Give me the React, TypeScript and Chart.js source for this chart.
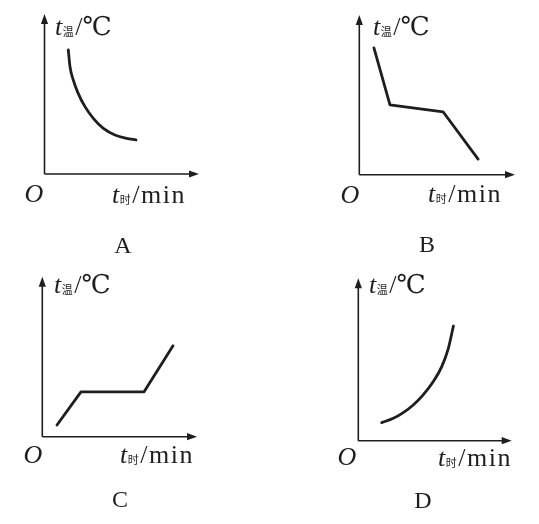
import React, { useEffect, useRef } from "react";
import { Chart, registerables } from "chart.js";

Chart.register(...registerables);

// ---- data (axis units 0..100) ----
const panelNames = ["A", "B", "C", "D"];
const aTime = [15.4, 16.5, 18.6, 21.8, 26.2, 31.6, 38.1, 45.6, 53.2, 59.2];
const aTemp = [77.5, 67.1, 58.8, 50.4, 42.1, 34.8, 28.5, 24.4, 22.3, 21.3];
const bTime = [9.4, 19.7, 53.8, 76.3];
const bTemp = [79.4, 43.7, 39.4, 9.8];
const cTime = [9.5, 25, 65.7, 84.5];
const cTemp = [7.3, 28, 28, 56.8];
const dTime = [15.3, 22.8, 29.3, 35.8, 42.3, 48.9, 54.4, 58.7, 62.0];
const dTemp = [11.1, 13.8, 17.3, 22.0, 28.2, 36.4, 45.6, 56.9, 70.6];
const yLabelParts = ["t", "温", "/℃"];
const xLabelParts = ["t", "时", "/min"];
const originText = "O";

const W = 539;
const H = 524;
const INK = "#1e1e1e";

type Layout = {
  ox: number; oy: number; tx: number; ty: number;
  yl: [number, number]; xl: [number, number]; o: [number, number]; letter: [number, number];
  smooth: boolean;
};

const layouts: Layout[] = [
  { ox: 44.5, oy: 174, tx: 199, ty: 14, yl: [55, 35], xl: [112, 203], o: [34, 202], letter: [123, 253], smooth: true },
  { ox: 359.3, oy: 174.7, tx: 515, ty: 15, yl: [373, 35], xl: [428, 202], o: [350, 203], letter: [427, 252], smooth: false },
  { ox: 42.3, oy: 436.7, tx: 197, ty: 276.7, yl: [54, 293], xl: [120, 463], o: [33, 463], letter: [120, 507], smooth: false },
  { ox: 358.3, oy: 440.7, tx: 511.7, ty: 278.3, yl: [369, 293], xl: [438, 466], o: [347, 465], letter: [423, 508], smooth: true },
];

const series = [
  [aTime, aTemp],
  [bTime, bTemp],
  [cTime, cTemp],
  [dTime, dTemp],
];

const SERIF = '"Liberation Serif", "DejaVu Serif", "Noto Sans CJK SC", serif';
const CJK = '"Noto Sans CJK SC", sans-serif';

function drawLabel(ctx: CanvasRenderingContext2D, parts: string[], x: number, y: number, spacing: string) {
  ctx.textAlign = "left";
  ctx.textBaseline = "alphabetic";
  ctx.font = `italic 26px ${SERIF}`;
  ctx.fillText(parts[0], x, y);
  let cx = x + ctx.measureText(parts[0]).width + 0.5;
  ctx.font = `11px ${CJK}`;
  ctx.fillText(parts[1], cx, y + 1);
  cx += ctx.measureText(parts[1]).width + 1.5;
  ctx.font = `26px ${SERIF}`;
  (ctx as any).letterSpacing = spacing;
  ctx.fillText(parts[2], cx, y);
  (ctx as any).letterSpacing = "0px";
}

function makePlugin(idx: number) {
  const L = layouts[idx];
  return {
    id: "sketch" + idx,
    beforeDatasetsDraw(chart: any) {
      const ctx: CanvasRenderingContext2D = chart.ctx;
      const xs = chart.scales.x;
      const ys = chart.scales.y;
      const x0 = xs.getPixelForValue(0);
      const x1 = xs.getPixelForValue(100);
      const y0 = ys.getPixelForValue(0);
      const y1 = ys.getPixelForValue(100);
      ctx.save();
      ctx.strokeStyle = INK;
      ctx.fillStyle = INK;
      ctx.lineWidth = 1.6;
      ctx.beginPath();
      ctx.moveTo(x0, y0);
      ctx.lineTo(x1 - 6, y0);
      ctx.moveTo(x0, y0);
      ctx.lineTo(x0, y1 + 6);
      ctx.stroke();
      // arrow heads
      ctx.beginPath();
      ctx.moveTo(x1, y0);
      ctx.lineTo(x1 - 10, y0 - 3.6);
      ctx.lineTo(x1 - 10, y0 + 3.6);
      ctx.closePath();
      ctx.fill();
      ctx.beginPath();
      ctx.moveTo(x0, y1);
      ctx.lineTo(x0 - 3.6, y1 + 10);
      ctx.lineTo(x0 + 3.6, y1 + 10);
      ctx.closePath();
      ctx.fill();
      ctx.restore();
    },
    afterDraw(chart: any) {
      const ctx: CanvasRenderingContext2D = chart.ctx;
      ctx.save();
      ctx.fillStyle = INK;
      drawLabel(ctx, yLabelParts, L.yl[0], L.yl[1], "0px");
      drawLabel(ctx, xLabelParts, L.xl[0], L.xl[1], "1.5px");
      ctx.font = `italic 26px ${SERIF}`;
      ctx.textAlign = "center";
      ctx.fillText(originText, L.o[0], L.o[1]);
      ctx.font = `24px ${SERIF}`;
      ctx.fillText(panelNames[idx], L.letter[0], L.letter[1]);
      ctx.restore();
    },
  };
}

function Panel({ idx }: { idx: number }) {
  const ref = useRef<HTMLCanvasElement | null>(null);
  useEffect(() => {
    const L = layouts[idx];
    const [tx, ty] = series[idx];
    const chart = new Chart(ref.current as HTMLCanvasElement, {
      type: "line",
      data: {
        datasets: [
          {
            data: tx.map((t, i) => ({ x: t, y: ty[i] })),
            borderColor: INK,
            borderWidth: 2.8,
            pointRadius: 0,
            fill: false,
            cubicInterpolationMode: L.smooth ? "monotone" : "default",
            tension: 0,
            borderCapStyle: "round",
            borderJoinStyle: "round",
          } as any,
        ],
      },
      options: {
        responsive: false,
        animation: false,
        events: [],
        layout: {
          padding: { left: L.ox, top: L.ty, right: W - L.tx, bottom: H - L.oy },
        },
        plugins: { legend: { display: false }, tooltip: { enabled: false }, title: { display: false } },
        scales: {
          x: { type: "linear", min: 0, max: 100, display: false },
          y: { type: "linear", min: 0, max: 100, display: false },
        },
      },
      plugins: [makePlugin(idx)],
    });
    return () => chart.destroy();
  }, [idx]);
  return (
    <canvas
      ref={ref}
      width={W}
      height={H}
      style={{ position: "absolute", left: 0, top: 0, width: W, height: H }}
    />
  );
}

export default function App() {
  return (
    <div style={{ position: "absolute", left: 0, top: 0, width: W, height: H, background: "#fff", overflow: "hidden" }}>
      {panelNames.map((_, i) => (
        <Panel key={i} idx={i} />
      ))}
    </div>
  );
}
